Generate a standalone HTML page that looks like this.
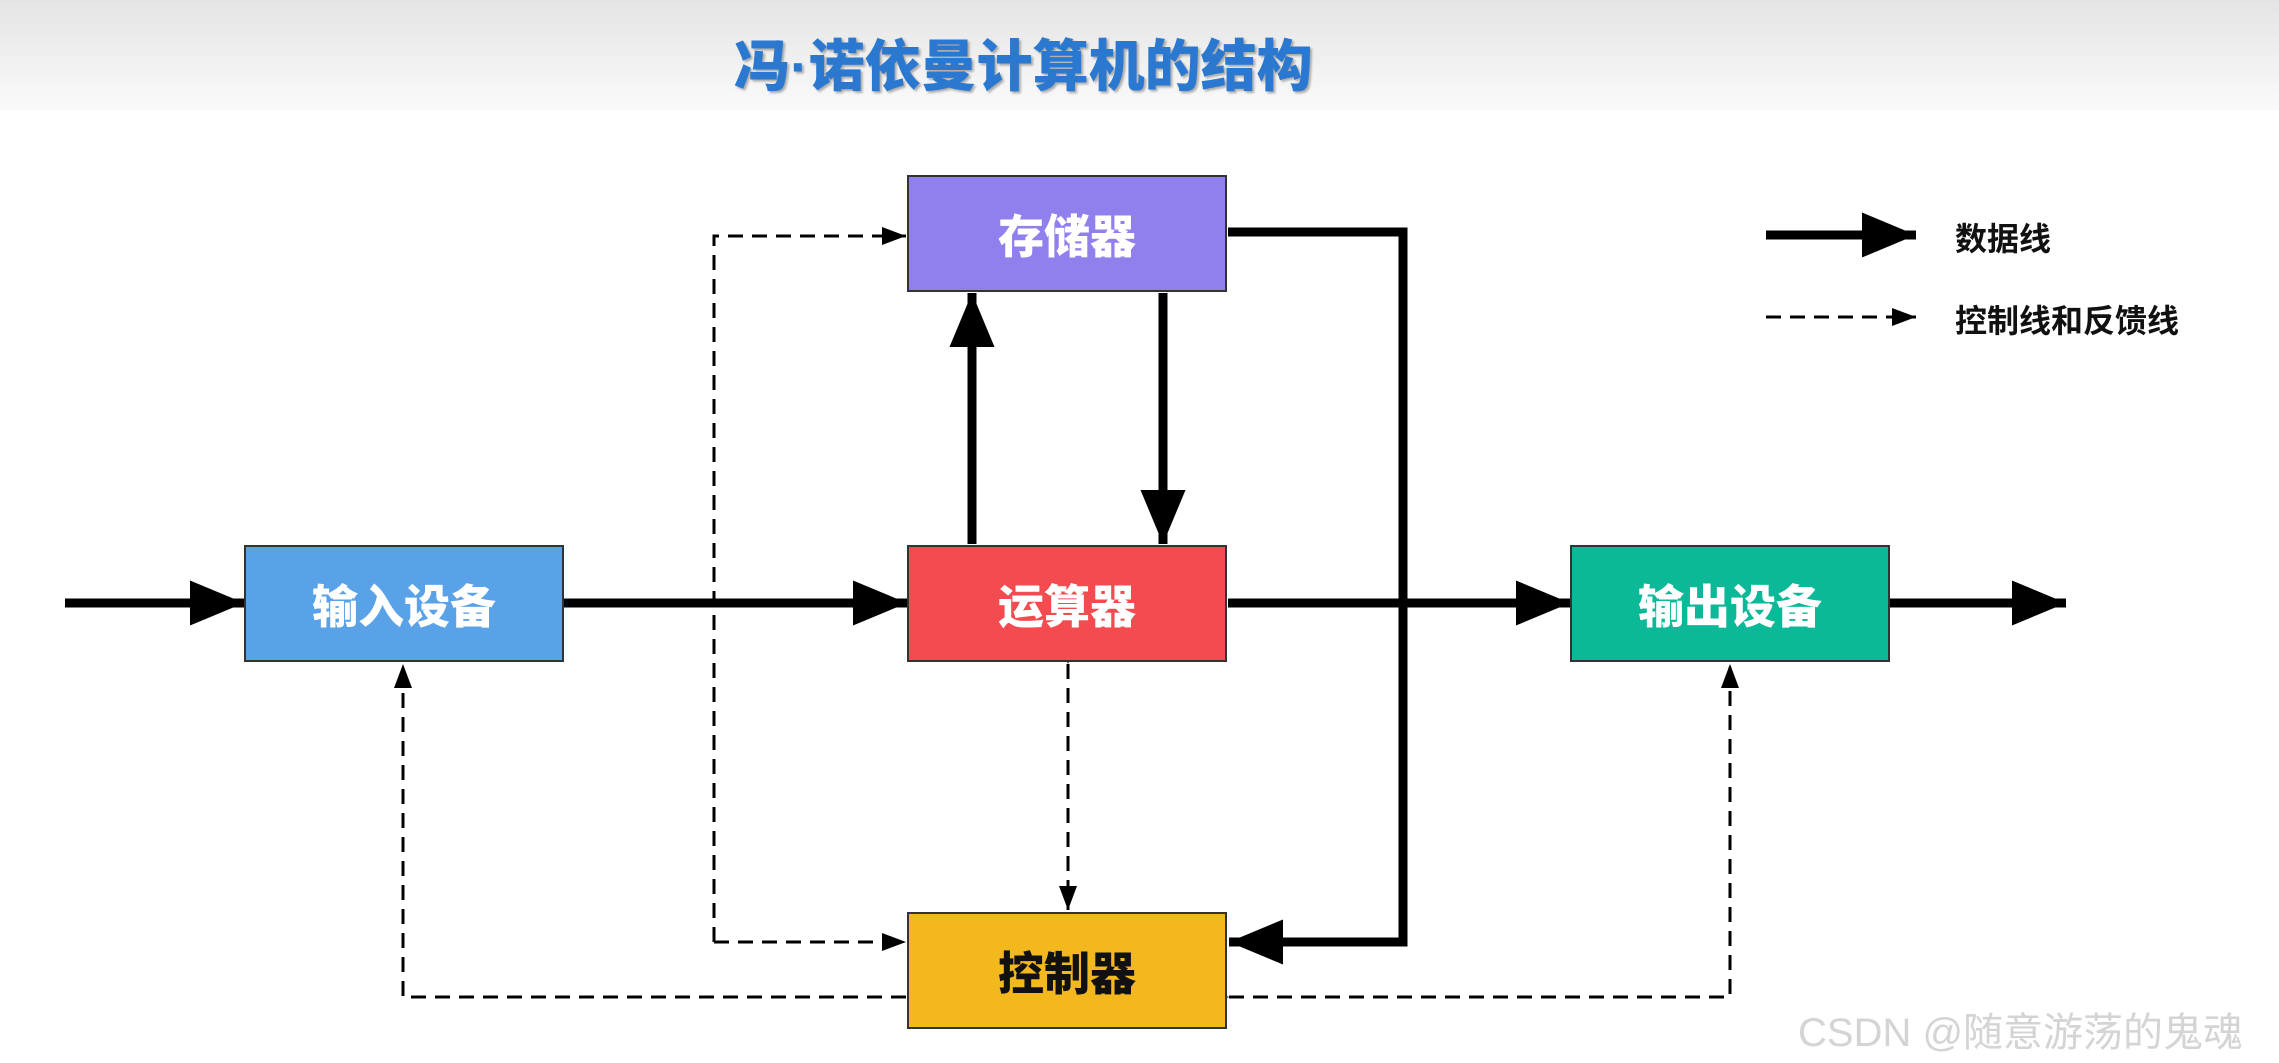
<!DOCTYPE html>
<html><head><meta charset="utf-8"><style>
body{margin:0;width:2279px;height:1063px;overflow:hidden;background:#fff;font-family:"Liberation Sans","Noto Sans CJK SC",sans-serif;}
.hdr{position:absolute;left:0;top:0;width:2279px;height:110px;background:linear-gradient(#e4e4e4,#fafafa);}
.t{position:absolute;left:734px;top:22px;font-size:56px;font-weight:900;color:#2a78d0;letter-spacing:0px;text-shadow:2px 2px 2px rgba(0,0,0,.3);white-space:nowrap;}
.b{position:absolute;width:320px;height:117px;box-sizing:border-box;border:2px solid #333;display:flex;align-items:center;justify-content:center;font-size:46px;font-weight:900;color:#fff;}
.lg{position:absolute;font-size:32px;font-weight:bold;color:#111;}
</style></head><body>
<div class="hdr"></div>
<div class="t">冯·诺依曼计算机的结构</div>
<svg width="2279" height="1063" style="position:absolute;left:0;top:0">
<defs>
<marker id="a" markerWidth="6" markerHeight="5" refX="6" refY="2.5" orient="auto" markerUnits="strokeWidth"><path d="M0,0L6,2.5L0,5z" fill="#000"/></marker>
<marker id="d" markerWidth="8" markerHeight="6" refX="8" refY="3" orient="auto" markerUnits="strokeWidth"><path d="M0,0L8,3L0,6z" fill="#000"/></marker>
</defs>
<g stroke="#000" stroke-width="9" fill="none">
<line x1="65" y1="603" x2="244" y2="603" marker-end="url(#a)"/>
<line x1="562" y1="603" x2="907" y2="603" marker-end="url(#a)"/>
<line x1="1228" y1="603" x2="1570" y2="603" marker-end="url(#a)"/>
<line x1="1890" y1="603" x2="2066" y2="603" marker-end="url(#a)"/>
<line x1="972" y1="544" x2="972" y2="293" marker-end="url(#a)"/>
<line x1="1163" y1="293" x2="1163" y2="544" marker-end="url(#a)"/>
<polyline points="1228,232 1403,232 1403,942 1229,942" marker-end="url(#a)"/>
<line x1="1766" y1="235" x2="1916" y2="235" marker-end="url(#a)"/>
</g>
<g stroke="#000" stroke-width="3" fill="none" stroke-dasharray="15,9">
<polyline points="714,942 714,236 906,236" marker-end="url(#d)"/>
<line x1="714" y1="942" x2="906" y2="942" marker-end="url(#d)"/>
<polyline points="906,997 403,997 403,664" marker-end="url(#d)"/>
<polyline points="1229,997 1730,997 1730,664" marker-start="url(#d)" marker-end="url(#d)"/>
<line x1="1068" y1="664" x2="1068" y2="910" marker-start="url(#d)" marker-end="url(#d)"/>
<line x1="1766" y1="317" x2="1916" y2="317" marker-end="url(#d)"/>
</g>
</svg>
<div class="b" style="left:907px;top:175px;background:#9080ee;">存储器</div>
<div class="b" style="left:907px;top:545px;background:#f44b50;">运算器</div>
<div class="b" style="left:244px;top:545px;background:#5aa2e8;">输入设备</div>
<div class="b" style="left:1570px;top:545px;background:#0bb898;">输出设备</div>
<div class="b" style="left:907px;top:912px;background:#f2b81e;color:#111;">控制器</div>
<div class="lg" style="left:1955px;top:214px;">数据线</div>
<div class="lg" style="left:1955px;top:296px;">控制线和反馈线</div>
<div style="position:absolute;left:1798px;top:1000px;font-size:40px;color:#d4d4d4;white-space:nowrap;">CSDN @随意游荡的鬼魂</div>
</body></html>
